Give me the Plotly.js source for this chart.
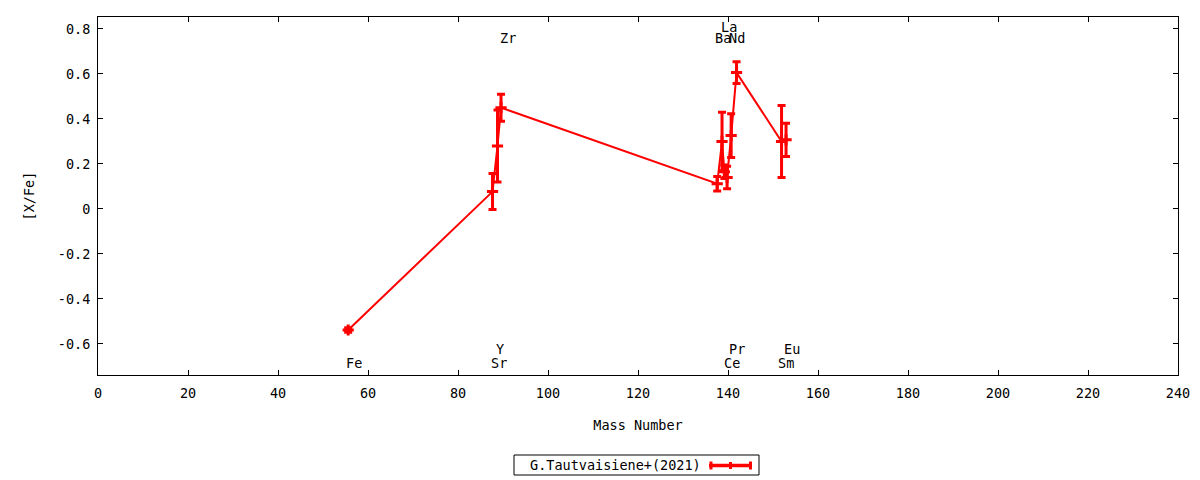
<!DOCTYPE html>
<html>
<head>
<meta charset="utf-8">
<script src="https://cdn.plot.ly/plotly-3.0.1.min.js"></script>
<style>
  body { margin: 0; background: #fff; }
  #chart { width: 1200px; height: 480px; }
</style>
</head>
<body>
<div id="chart"></div>
<script>
// abundance pattern
const mass = [55.6, 87.67, 88.78, 89.56, 137.6, 138.67, 139.2, 139.8, 140.7, 141.9, 151.9, 152.9];
const xfe = [-0.538, 0.077, 0.28, 0.45, 0.112, 0.30, 0.165, 0.14, 0.326, 0.606, 0.30, 0.307];
const xfeErr = [0.01, 0.08, 0.16, 0.06, 0.032, 0.13, 0.03, 0.05, 0.097, 0.048, 0.16, 0.074];

// element labels (gnuplot style, left aligned)
const elemNames = ["Fe", "Sr", "Y", "Zr", "Ba", "La", "Nd", "Ce", "Pr", "Sm", "Eu"];
const elemX = [54.75, 86.8, 87.9, 88.8, 136.6, 138.1, 139.7, 138.6, 139.7, 150.6, 151.9];
const elemY = [-0.684, -0.684, -0.622, 0.76, 0.76, 0.809, 0.76, -0.684, -0.622, -0.684, -0.622];

const xTicks = [0, 20, 40, 60, 80, 100, 120, 140, 160, 180, 200, 220, 240];
const yTicks = [-0.6, -0.4, -0.2, 0, 0.2, 0.4, 0.6, 0.8];
const yTickText = ["-0.6", "-0.4", "-0.2", "0", "0.2", "0.4", "0.6", "0.8"];

const seriesName = "G.Tautvaisiene+(2021)";

const FONT = "DejaVu Sans Mono, monospace";
const RED = "#ff0000";

// plot area in pixels (for the hand drawn gnuplot-like key)
const L = 98, R = 1178, T = 17, B = 375;
const px = (x) => (x - L) / (R - L);
const py = (y) => (B - y) / (B - T);

const trace = {
    x: mass,
    y: xfe,
    type: "scatter",
    mode: "lines+markers",
    name: seriesName,
    showlegend: false,
    line: { color: RED, width: 2 },
    marker: { symbol: "cross-thin", size: 8, color: RED, line: { color: RED, width: 3 } },
    error_y: { type: "data", array: xfeErr, visible: true, color: RED, thickness: 3, width: 4 }
};

const annotations = elemNames.map((name, i) => ({
    x: elemX[i], y: elemY[i], xref: "x", yref: "y",
    text: name, showarrow: false,
    xanchor: "left", yanchor: "middle",
    font: { family: FONT, size: 13.5, color: "#000" }
}));

// key text
annotations.push({
    x: px(528), y: py(465), xref: "paper", yref: "paper",
    text: seriesName, showarrow: false,
    xanchor: "left", yanchor: "middle",
    font: { family: FONT, size: 13.5, color: "#000" }
});

const shapes = [
    // key box
    { type: "rect", xref: "paper", yref: "paper", x0: px(514), x1: px(759), y0: py(475), y1: py(455),
      line: { color: "#000", width: 1 } },
    // key sample
    { type: "line", xref: "paper", yref: "paper", x0: px(709), x1: px(752), y0: py(465.5), y1: py(465.5),
      line: { color: RED, width: 3.5 } },
    { type: "line", xref: "paper", yref: "paper", x0: px(711), x1: px(711), y0: py(461.5), y1: py(469.5),
      line: { color: RED, width: 3 } },
    { type: "line", xref: "paper", yref: "paper", x0: px(730.5), x1: px(730.5), y0: py(462), y1: py(469),
      line: { color: RED, width: 3 } },
    { type: "line", xref: "paper", yref: "paper", x0: px(750.5), x1: px(750.5), y0: py(461.5), y1: py(469.5),
      line: { color: RED, width: 3 } }
];

const axisCommon = {
    showgrid: false,
    zeroline: false,
    showline: true,
    linecolor: "#000",
    linewidth: 1,
    mirror: "allticks",
    ticks: "inside",
    ticklen: 5,
    tickcolor: "#000",
    tickfont: { family: FONT, size: 13.5, color: "#000" }
};

const layout = {
    width: 1200,
    height: 480,
    margin: { l: L, r: 1200 - R, t: T, b: 480 - B },
    paper_bgcolor: "#fff",
    plot_bgcolor: "#fff",
    showlegend: false,
    xaxis: Object.assign({}, axisCommon, {
        range: [0, 240],
        tickvals: xTicks,
        ticktext: xTicks.map(String),
        ticklabelstandoff: 6,
        title: { text: "Mass Number", font: { family: FONT, size: 13.5, color: "#000" }, standoff: 20 }
    }),
    yaxis: Object.assign({}, axisCommon, {
        range: [-0.738, 0.853],
        tickvals: yTicks,
        ticktext: yTickText,
        ticklabelstandoff: 4,
        title: { text: "[X/Fe]", font: { family: FONT, size: 13.5, color: "#000" }, standoff: 20 }
    }),
    annotations: annotations,
    shapes: shapes
};

Plotly.newPlot("chart", [trace], layout, { displayModeBar: false, staticPlot: true });
</script>
</body>
</html>
